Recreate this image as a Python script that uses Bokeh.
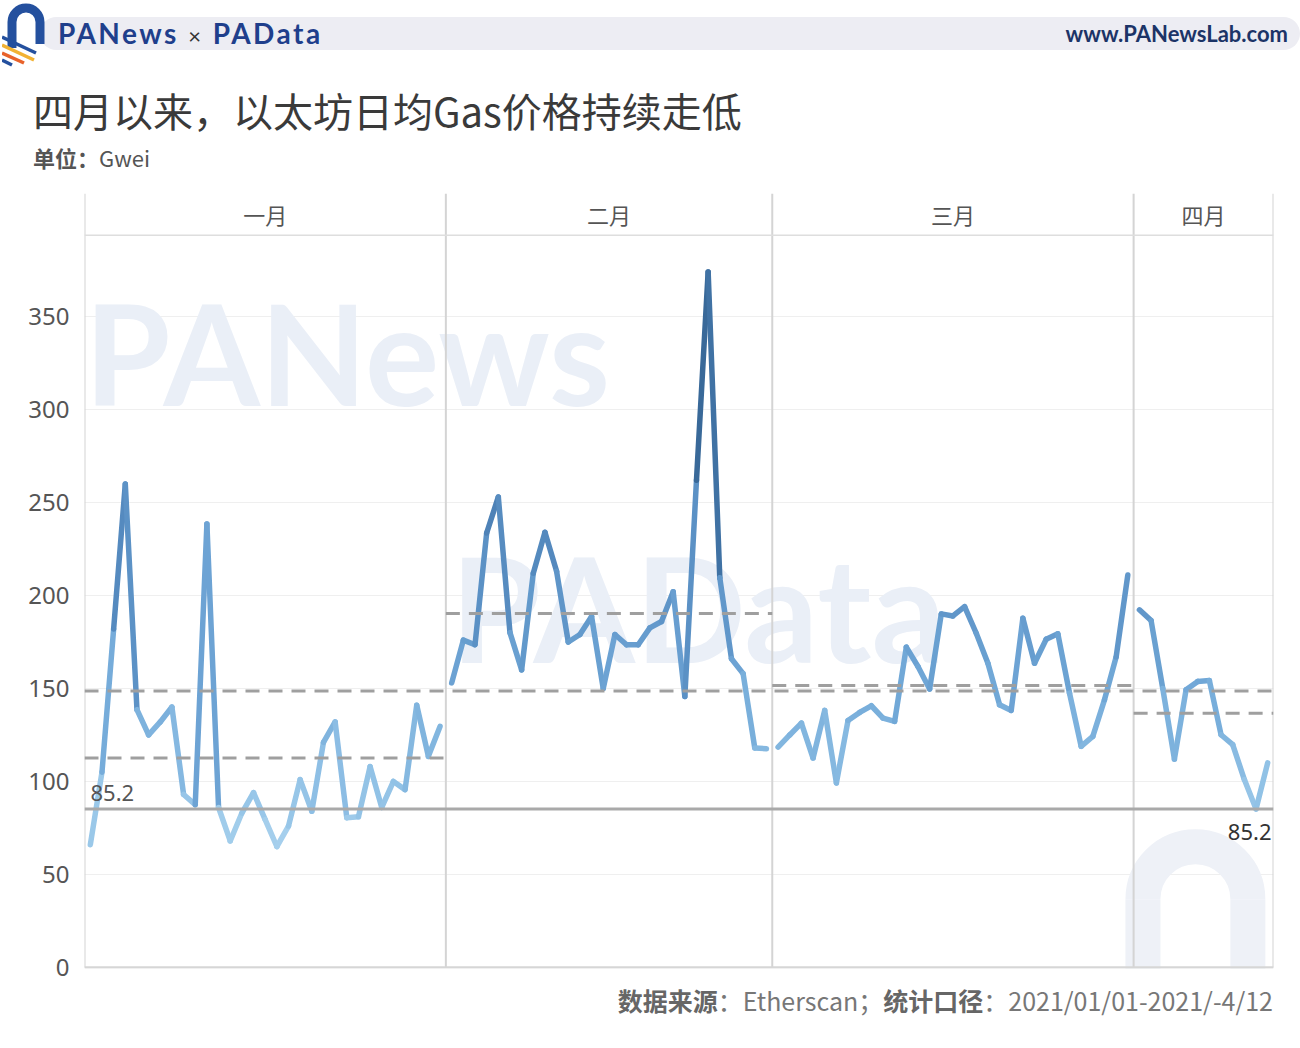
import numpy as np
from bokeh.plotting import figure
from bokeh.models import Range1d, FixedTicker, Div, ColumnDataSource
from bokeh.layouts import column
from bokeh.transform import linear_cmap
from bokeh.core.properties import value
from bokeh.embed import file_html
from bokeh.resources import INLINE

# ---------------- data ----------------
months = ["一月", "二月", "三月", "四月"]
jan_vals = [66, 105, 182, 260, 138.6, 125, 132, 140, 93, 87.5,
            238.5, 86, 68, 83, 94, 79.5, 65, 76, 101, 84,
            121, 132, 80.5, 81, 108, 86, 100, 95.6, 141, 113.5, 129.6]
feb_vals = [153, 176, 173.5, 233.6, 253, 180, 160, 212, 234, 213,
            175, 179, 188.7, 150, 179, 173.5, 173.5, 182.6, 186, 202,
            145.7, 262, 374, 209.5, 166, 158, 118, 117.6]
mar_vals = [118.5, 125, 131.4, 112.6, 138.2, 99.2, 132.8, 137.1, 140.7, 134.1,
            132.3, 172.2, 161.8, 149.7, 190.1, 189, 194, 179.7, 163.6, 141.2,
            138.2, 187.8, 163.6, 176.5, 179.4, 147.5, 118.9, 124.2, 143.9, 166.9, 211]
apr_vals = [192.3, 186.5, 150, 112, 149.3, 153.8, 154.3, 125.1, 119.8, 101, 85.2, 110]
ref_value = 85.2
ref_label = "85.2"
y_ticks = [0, 50, 100, 150, 200, 250, 300, 350]

month_vals = [jan_vals, feb_vals, mar_vals, apr_vals]

# ---------------- derived ----------------
all_vals = [v for m in month_vals for v in m]
overall_mean = float(np.mean(all_vals))
n_total = len(all_vals)

starts = []
s = 0
for m in month_vals:
    starts.append(s)
    s += len(m)

# colour palette (Tableau-like sequential blue)
stops_v = [60, 100, 150, 200, 260, 374]
stops_c = ["#acd4ef", "#8fc0e5", "#72a9d8", "#5c92c6", "#487cb1", "#2a5783"]


def hex2rgb(h):
    return tuple(int(h[i:i + 2], 16) for i in (1, 3, 5))


palette = []
for t in np.linspace(stops_v[0], stops_v[-1], 256):
    k = int(np.searchsorted(stops_v, t, side="right") - 1)
    k = min(max(k, 0), len(stops_v) - 2)
    f = (t - stops_v[k]) / (stops_v[k + 1] - stops_v[k])
    a, b = hex2rgb(stops_c[k]), hex2rgb(stops_c[k + 1])
    c = tuple(int(round(a[i] + (b[i] - a[i]) * f)) for i in range(3))
    palette.append("#%02x%02x%02x" % c)

x0, y0, x1, y1, cv = [], [], [], [], []
for st, m in zip(starts, month_vals):
    for i in range(len(m) - 1):
        x0.append(st + i)
        x1.append(st + i + 1)
        y0.append(m[i])
        y1.append(m[i + 1])
        cv.append((m[i] + m[i + 1]) / 2)
seg_src = ColumnDataSource(dict(x0=x0, y0=y0, x1=x1, y1=y1, cv=cv))

# ---------------- figure ----------------
Y_TOP = 416.2
p = figure(width=1284, height=792, output_backend="svg", toolbar_location=None,
           x_range=Range1d(-0.5, n_total - 0.5), y_range=Range1d(-0.6, Y_TOP),
           x_axis_type=None, min_border_left=76, min_border_right=19,
           min_border_top=0, min_border_bottom=17)
p.outline_line_color = None
p.background_fill_color = "white"
p.border_fill_color = "white"
p.xgrid.visible = False
p.ygrid.ticker = FixedTicker(ticks=y_ticks)
p.ygrid.grid_line_color = "#efefef"
p.ygrid.grid_line_width = 1.2
p.yaxis.ticker = FixedTicker(ticks=y_ticks)
p.yaxis.axis_line_color = None
p.yaxis.major_tick_line_color = None
p.yaxis.minor_tick_line_color = None
p.yaxis.major_label_text_font = "Noto Sans"
p.yaxis.major_label_text_font_size = "24px"
p.yaxis.major_label_text_color = "#555555"
p.yaxis.major_label_standoff = 9

# watermark
p.text(x=[-0.5], y=[330.5], text=["PANews"], text_font=value("Lato"),
       text_font_style="bold", text_font_size="139px", text_color="#eaeff7",
       text_baseline="alphabetic")
p.text(x=[30.9], y=[194], text=["PAData"], text_font=value("Lato"),
       text_font_style="bold", text_font_size="146px", text_color="#eaeff7",
       text_baseline="alphabetic")
p.arc(x=[94.8], y=[36.6], radius=4.5, start_angle=0, end_angle=np.pi,
      line_color="#eef1f7", line_width=35)
p.segment(x0=[90.3, 99.3], y0=[36.6, 36.6], x1=[90.3, 99.3], y1=[-5, -5],
          line_color="#eef1f7", line_width=35)

# facet frame lines
bounds = [st - 0.5 for st in starts] + [n_total - 0.5]
p.segment(x0=bounds, y0=[0] * len(bounds), x1=bounds, y1=[Y_TOP] * len(bounds),
          line_color="#d4d4d4", line_width=2)
p.segment(x0=[-0.5], y0=[393.7], x1=[n_total - 0.5], y1=[393.7],
          line_color="#dedede", line_width=1.5)
p.segment(x0=[-0.5], y0=[0], x1=[n_total - 0.5], y1=[0],
          line_color="#d6d6d6", line_width=2.5)

# month headers
centers = [st + (len(m) - 1) / 2 for st, m in zip(starts, month_vals)]
p.text(x=centers, y=[405] * 4, text=months, text_font=value("Noto Sans CJK SC"),
       text_font_size="22px", text_color="#555555", text_align="center",
       text_baseline="middle")

# data line
p.segment(x0="x0", y0="y0", x1="x1", y1="y1", source=seg_src, line_width=5.5,
          line_cap="round",
          line_color=linear_cmap("cv", palette, stops_v[0], stops_v[-1]))

# reference lines
p.segment(x0=[-0.5], y0=[ref_value], x1=[n_total - 0.5], y1=[ref_value],
          line_color="#a9a9a9", line_width=3)
p.segment(x0=[-0.5], y0=[overall_mean], x1=[n_total - 0.5], y1=[overall_mean],
          line_color="#9f9f9f", line_width=3, line_dash="14 9")
mx0 = [st - 0.5 for st in starts]
mx1 = [st + len(m) - 0.5 for st, m in zip(starts, month_vals)]
mmean = [float(np.mean(m)) for m in month_vals]
p.segment(x0=mx0, y0=mmean, x1=mx1, y1=mmean, line_color="#9f9f9f",
          line_width=3, line_dash="14 9")

# 85.2 labels
p.text(x=[-0.5], y=[ref_value], text=[ref_label], x_offset=6, y_offset=-8,
       text_font=value("Noto Sans"), text_font_size="22px", text_color="#555555",
       text_align="left", text_baseline="bottom")
p.text(x=[n_total - 0.5], y=[ref_value], text=[ref_label], x_offset=-2, y_offset=15,
       text_font=value("Noto Sans"), text_font_size="22px", text_color="#333333",
       text_align="right", text_baseline="top")

# ---------------- header / footer ----------------
logo_svg = (
    '<svg style="position:absolute;left:-6px;top:-8px" width="48" height="72" '
    'xmlns="http://www.w3.org/2000/svg">'
    '<path d="M10 48 V22 A14 14 0 0 1 38 22 V44" stroke="#24509e" stroke-width="9" '
    'fill="none" stroke-linecap="butt"/>'
    '<line x1="0" y1="37" x2="34" y2="53" stroke="#24509e" stroke-width="3.5"/>'
    '<line x1="0" y1="45" x2="32" y2="60" stroke="#f2b233" stroke-width="3.5"/>'
    '<line x1="0" y1="53" x2="22" y2="63" stroke="#e8622a" stroke-width="3.5"/>'
    '<line x1="0" y1="60" x2="10" y2="65" stroke="#24509e" stroke-width="3.5"/>'
    '</svg>'
)
header_html = (
    '<div style="position:relative;width:1284px;height:185px;'
    'font-family:\'Noto Sans CJK SC\',sans-serif;">'
    '<div style="position:absolute;left:32px;top:9px;width:1260px;height:33px;'
    'background:#ededf3;border-radius:17px;"></div>'
    + logo_svg +
    '<div style="position:absolute;left:50px;top:9px;height:33px;line-height:33px;'
    'font-family:Lato,sans-serif;font-weight:bold;font-size:28px;color:#1f3f8c;'
    'letter-spacing:2.5px;white-space:nowrap;">PANews <span style="font-weight:normal;'
    'font-size:22px;color:#333;">×</span> PAData</div>'
    '<div style="position:absolute;right:4px;top:9px;height:33px;line-height:33px;'
    'font-family:Lato,sans-serif;font-weight:bold;font-size:22px;color:#1c3467;'
    'white-space:nowrap;">www.PANewsLab.com</div>'
    '<div style="position:absolute;left:25px;top:77px;line-height:50px;font-size:40px;'
    'color:#3a3a3a;white-space:nowrap;">四月以来，以太坊日均Gas价格持续走低</div>'
    '<div style="position:absolute;left:25px;top:134px;line-height:30px;font-size:22px;'
    'color:#555;white-space:nowrap;"><b>单位：</b>Gwei</div>'
    '</div>'
)
header = Div(text=header_html, width=1284, height=185, margin=(0, 0, 0, 0))

footer_html = (
    '<div style="width:1265px;height:30px;line-height:30px;text-align:right;'
    'font-family:\'Noto Sans CJK SC\',sans-serif;font-size:25px;color:#777;'
    'white-space:nowrap;"><b style="color:#666">数据来源</b>：Etherscan；'
    '<b style="color:#666">统计口径</b>：2021/01/01-2021/-4/12</div>'
)
footer = Div(text=footer_html, width=1284, height=30, margin=(0, 0, 0, 0))

layout = column(header, p, footer, spacing=0, margin=(8, 0, 0, 8))
open("out.html", "w").write(file_html(layout, INLINE))
